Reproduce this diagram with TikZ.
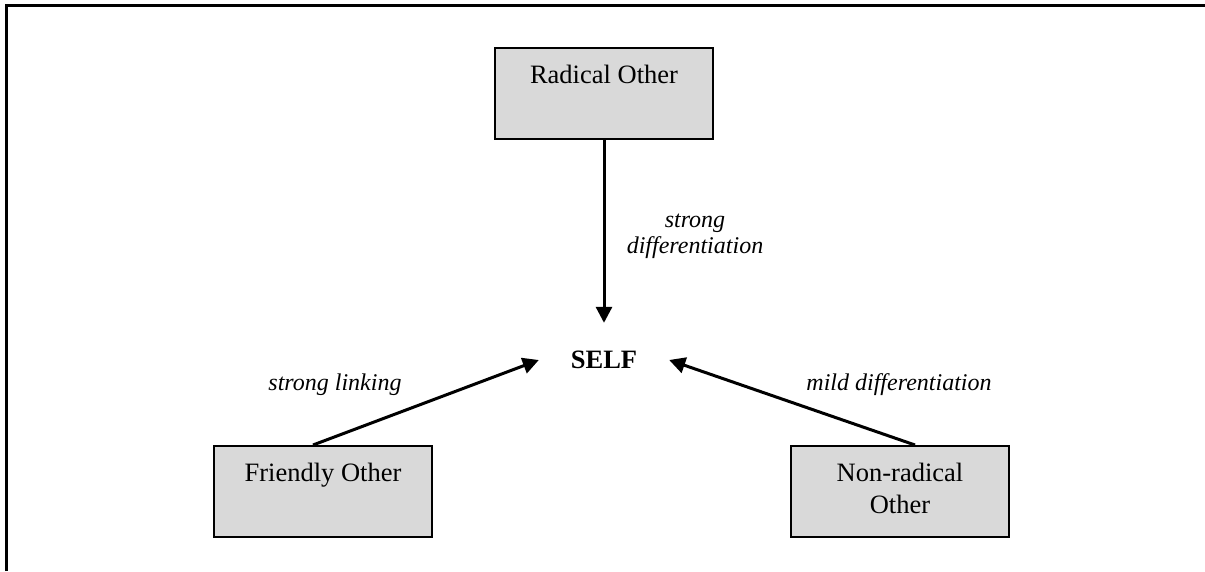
\documentclass[tikz,border=0pt]{standalone}
\usepackage{fontspec}
\setmainfont{Liberation Serif}
\usetikzlibrary{arrows.meta}
\begin{document}
\begin{tikzpicture}[x=1pt,y=-1pt,
  otherbox/.style={draw, fill=black!15, line width=2pt, minimum width=218pt,
    minimum height=91pt, inner sep=0pt, align=center,
    font=\fontsize{26.5}{32}\selectfont},
  edgelabel/.style={inner sep=0pt, align=center, font=\fontsize{24}{26}\selectfont\itshape},
  link/.style={line width=3pt, -{Triangle[length=16pt,width=16pt]}}]
\useasboundingbox (0,0) rectangle (1205,571);
\draw[line width=2.5pt] (6.5,571) -- (6.5,5.5) -- (1205,5.5);
\node[otherbox] (ro) at (604,93.5) {\strut Radical Other\\\strut};
\node[otherbox] (fo) at (323,491.5) {\strut Friendly Other\\\strut};
\node[otherbox] (nr) at (900,491.5) {\strut Non-radical\\\strut Other};
\node[minimum width=130pt, minimum height=74pt, inner sep=0pt,
  font=\fontsize{26.5}{32}\selectfont\bfseries] (self) at (604,360) {SELF};
\draw[link] (ro.south) -- (self.north);
\draw[link] ([xshift=-10pt]fo.north) -- (self.west);
\draw[link] ([xshift=15pt]nr.north) -- (self.east);
\node[edgelabel] (l1) at (695,236) {strong\\differentiation};
\node[edgelabel] (l2) at (335,385) {strong linking};
\node[edgelabel] (l3) at (899,385) {mild differentiation};
\end{tikzpicture}
\end{document}
